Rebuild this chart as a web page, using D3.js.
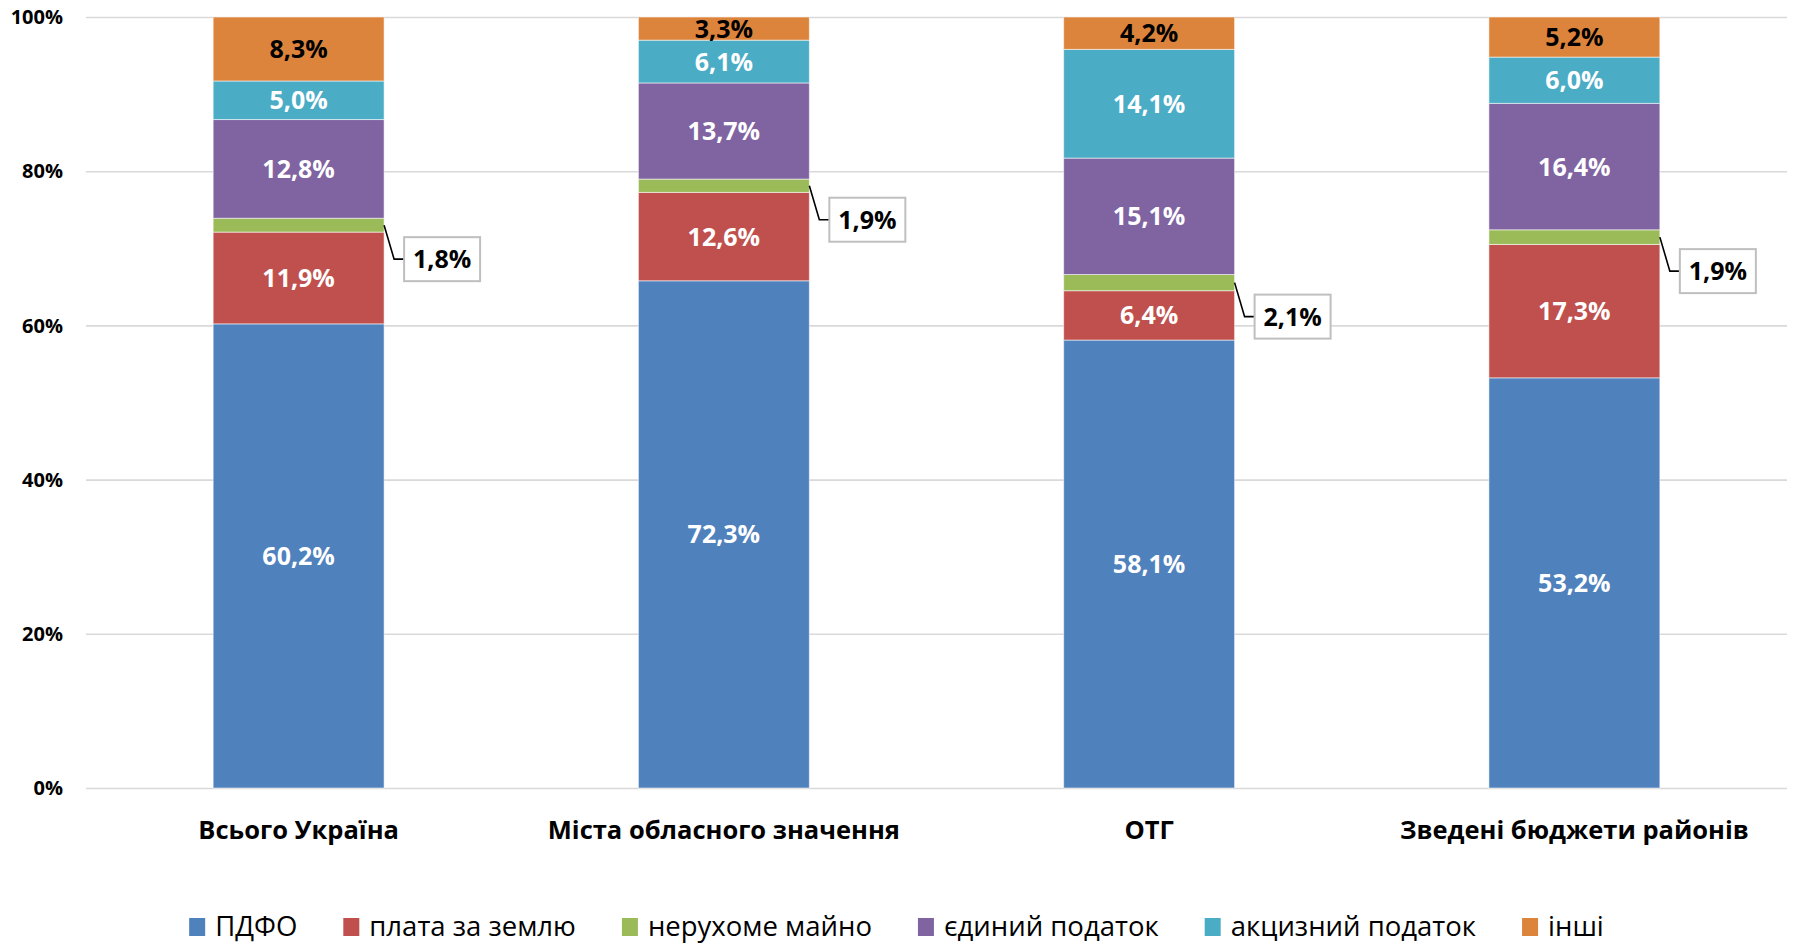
<!DOCTYPE html>
<html>
<head>
<meta charset="utf-8">
<script src="https://cdn.jsdelivr.net/npm/d3@7"></script>
<style>
  html, body { margin: 0; padding: 0; background: #fff; }
  svg { display: block; font-family: "Open Sans", "Noto Sans", sans-serif; }
  .tick-label { font-size: 20px; font-weight: 700; fill: #000; }
  .cat-label { font-size: 25.5px; font-weight: 700; fill: #000; }
  .seg-label { font-size: 25px; font-weight: 700; }
  .legend-label { font-size: 27.5px; fill: #000; }
</style>
</head>
<body>
<svg id="chart" width="1793" height="945"></svg>
<script>
const categories = ["Всього Україна", "Міста обласного значення", "ОТГ", "Зведені бюджети районів"];
const seriesNames = ["ПДФО", "плата за землю", "нерухоме майно", "єдиний податок", "акцизний податок", "інші"];
const seriesColors = ["#4f81bd", "#c0504d", "#9bbb59", "#8064a2", "#4bacc6", "#dd843c"];

// shares in %, as labelled on the chart (bars are drawn as 100% stacks)
const pdfo = [60.2, 72.3, 58.1, 53.2];
const landFee = [11.9, 12.6, 6.4, 17.3];
const property = [1.8, 1.9, 2.1, 1.9];
const singleTax = [12.8, 13.7, 15.1, 16.4];
const exciseTax = [5.0, 6.1, 14.1, 6.0];
const other = [8.3, 3.3, 4.2, 5.2];

const yTicks = [0, 0.2, 0.4, 0.6, 0.8, 1];

const seriesValues = [pdfo, landFee, property, singleTax, exciseTax, other];
const rows = categories.map((c, i) => {
  const row = { category: c };
  seriesNames.forEach((s, k) => { row[s] = seriesValues[k][i]; });
  return row;
});

const svg = d3.select("#chart");
const margin = { left: 86, right: 6, top: 17, bottom: 157 };
const width = 1793;
const height = 945;
const plotW = width - margin.left - margin.right;
const plotH = height - margin.top - margin.bottom;

const x = d3.scaleBand()
  .domain(categories)
  .range([margin.left, margin.left + plotW])
  .paddingInner(0.598)
  .paddingOuter(0.299);

const y = d3.scaleLinear()
  .domain([0, 1])
  .range([margin.top + plotH, margin.top]);

const color = d3.scaleOrdinal().domain(seriesNames).range(seriesColors);
const fmt = (v) => `${v.toFixed(1).replace(".", ",")}%`;

// gridlines
const yAxis = d3.axisLeft(y)
  .tickValues(yTicks)
  .tickSize(-plotW)
  .tickFormat("");
svg.append("g")
  .attr("transform", `translate(${margin.left},0)`)
  .call(yAxis)
  .call((g) => g.select(".domain").remove())
  .call((g) => g.selectAll("line").attr("stroke", "#d9d9d9").attr("stroke-width", 1.6));

svg.append("g")
  .selectAll("text")
  .data(yTicks)
  .join("text")
  .attr("class", "tick-label")
  .attr("x", margin.left - 23)
  .attr("y", (d) => y(d))
  .attr("dy", "0.36em")
  .attr("text-anchor", "end")
  .text((d) => `${Math.round(d * 100)}%`);

const stack = d3.stack().keys(seriesNames).offset(d3.stackOffsetExpand);
const stacked = stack(rows);

const layer = svg.append("g")
  .selectAll("g")
  .data(stacked)
  .join("g")
  .attr("fill", (d) => color(d.key));

layer.selectAll("rect")
  .data((d) => d)
  .join("rect")
  .attr("x", (d) => x(d.data.category))
  .attr("width", x.bandwidth())
  .attr("y", (d) => y(d[1]))
  .attr("height", (d) => y(d[0]) - y(d[1]))
  .attr("stroke", "#fff")
  .attr("stroke-opacity", 0.55)
  .attr("stroke-width", 1);

// labels inside segments (all except "нерухоме майно")
const labelLayer = svg.append("g");
stacked.forEach((s) => {
  if (s.key === "нерухоме майно") return;
  labelLayer.append("g")
    .selectAll("text")
    .data(s)
    .join("text")
    .attr("class", "seg-label")
    .attr("x", (d) => x(d.data.category) + x.bandwidth() / 2)
    .attr("y", (d) => (y(d[0]) + y(d[1])) / 2)
    .attr("dy", "0.36em")
    .attr("text-anchor", "middle")
    .attr("fill", s.key === "інші" ? "#000" : "#fff")
    .text((d) => fmt(d.data[s.key]));
});

// callouts for the thin "нерухоме майно" segment
const propLayer = stacked.find((s) => s.key === "нерухоме майно");
const callout = svg.append("g")
  .selectAll("g")
  .data(propLayer)
  .join("g")
  .attr("transform", (d) => `translate(${x(d.data.category) + x.bandwidth()},${(y(d[0]) + y(d[1])) / 2})`);

callout.append("path")
  .attr("d", "M0,0 L10,34 L20,34")
  .attr("fill", "none")
  .attr("stroke", "#000")
  .attr("stroke-width", 1.6);

callout.append("rect")
  .attr("x", 20)
  .attr("y", 12)
  .attr("width", 76)
  .attr("height", 44)
  .attr("fill", "#fff")
  .attr("stroke", "#bfbfbf")
  .attr("stroke-width", 2);

callout.append("text")
  .attr("class", "seg-label")
  .attr("x", 58)
  .attr("y", 34)
  .attr("dy", "0.36em")
  .attr("text-anchor", "middle")
  .attr("fill", "#000")
  .text((d) => fmt(d.data["нерухоме майно"]));

// category labels
svg.append("g")
  .selectAll("text")
  .data(categories)
  .join("text")
  .attr("class", "cat-label")
  .attr("x", (d) => x(d) + x.bandwidth() / 2)
  .attr("y", 839)
  .attr("text-anchor", "middle")
  .text((d) => d);

// legend, centred on the figure
const legend = svg.append("g").attr("transform", "translate(0,936)");
const items = legend.selectAll("g")
  .data(seriesNames)
  .join("g");
items.append("rect")
  .attr("y", -18)
  .attr("width", 16)
  .attr("height", 18)
  .attr("fill", (d) => color(d));
items.append("text")
  .attr("class", "legend-label")
  .attr("x", 26)
  .attr("y", 0)
  .text((d) => d);

let cursor = 0;
const offsets = [];
items.each(function () {
  const w = this.querySelector("text").getComputedTextLength();
  offsets.push(cursor);
  cursor += 26 + w + 46;
});
const total = cursor - 46;
const start = width / 2 - total / 2;
items.attr("transform", (d, i) => `translate(${start + offsets[i]},0)`);
</script>
</body>
</html>
